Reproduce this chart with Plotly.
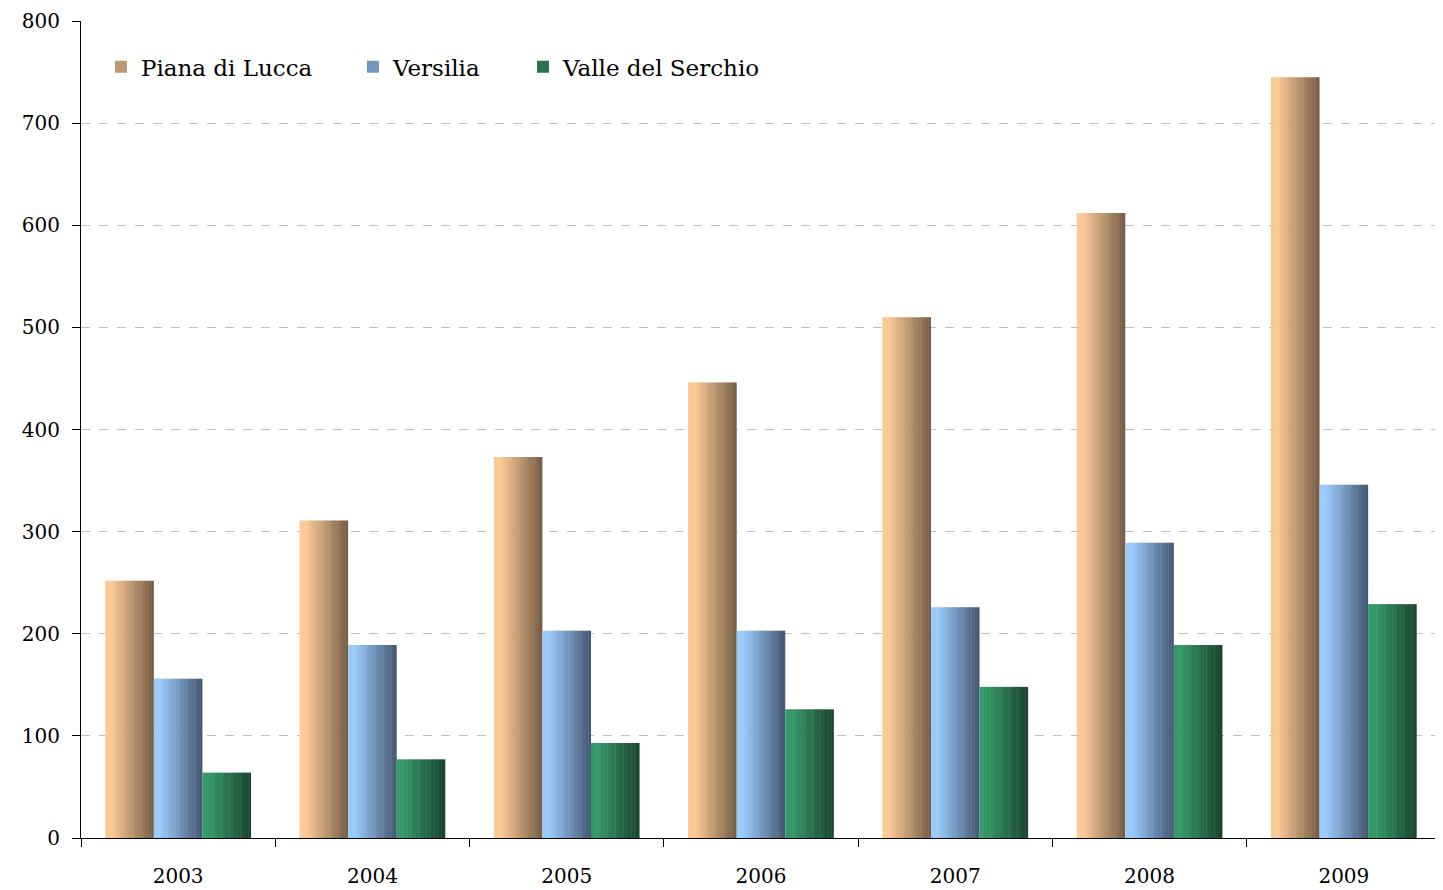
import plotly.graph_objects as go

# Dati
anni = ["2003", "2004", "2005", "2006", "2007", "2008", "2009"]
piana_di_lucca = [252, 311, 373, 446, 510, 612, 745]
versilia = [156, 189, 203, 203, 226, 289, 346]
valle_del_serchio = [64, 77, 93, 126, 148, 189, 229]

serie = [
    ("Piana di Lucca", piana_di_lucca, (250, 201, 150), (120, 95, 71)),
    ("Versilia", versilia, (153, 202, 250), (70, 90, 117)),
    ("Valle del Serchio", valle_del_serchio, (52, 152, 104), (26, 70, 47)),
]

n_strisce = 18        # strisce per simulare il gradiente orizzontale
larghezza_barra = 0.25
inizio_gruppo = -0.375

# una legenda per voce, così si può posizionare come nell'originale
legende = ["legend", "legend2", "legend3"]
pos_legenda = [0.0147, 0.200, 0.325]


def colore(c1, c2, t):
    # resta chiaro per un tratto, poi scurisce
    t = max(0.0, (t - 0.12) / 0.88)
    r, g, b = (round(a + (b_ - a) * t) for a, b_ in zip(c1, c2))
    return f"rgb({r},{g},{b})"


fig = go.Figure()

for i, (nome, valori, chiaro, scuro) in enumerate(serie):
    w = larghezza_barra / n_strisce
    for j in range(n_strisce):
        fig.add_trace(go.Bar(
            x=anni,
            y=valori,
            name=nome,
            legendgroup=nome,
            legend=legende[i],
            showlegend=(j == n_strisce // 2),
            width=w * 1.15 if j < n_strisce - 1 else w,
            offset=inizio_gruppo + i * larghezza_barra + j * w,
            marker=dict(color=colore(chiaro, scuro, j / (n_strisce - 1)), line=dict(width=0)),
            hoverinfo="skip" if j != n_strisce // 2 else None,
        ))

stile_legenda = dict(
    orientation="h",
    y=0.944,
    xanchor="left", yanchor="middle",
    font=dict(size=23),
    bgcolor="rgba(0,0,0,0)",
    itemwidth=30,
)

# la pagina ha 8px di margine, quindi la figura è un po' più piccola
fig.update_layout(
    width=1435,
    height=882,
    barmode="overlay",
    plot_bgcolor="white",
    paper_bgcolor="white",
    margin=dict(l=73, r=2, t=13, b=52),
    font=dict(family="DejaVu Serif", size=20, color="black"),
    legend=dict(stile_legenda, x=pos_legenda[0]),
    legend2=dict(stile_legenda, x=pos_legenda[1]),
    legend3=dict(stile_legenda, x=pos_legenda[2]),
    xaxis=dict(
        type="category",
        tickson="boundaries",
        ticks="outside",
        ticklen=8,
        tickcolor="black",
        showline=True,
        linecolor="black",
        linewidth=1,
        showgrid=False,
        ticklabelstandoff=20,
        automargin=False,
    ),
    yaxis=dict(
        range=[0, 800],
        dtick=100,
        ticks="outside",
        ticklen=8,
        tickcolor="black",
        showline=True,
        linecolor="black",
        linewidth=1,
        showgrid=True,
        gridcolor="#BFBFBF",
        griddash="dash",
        gridwidth=1,
        zeroline=False,
        ticklabelstandoff=8,
        automargin=False,
    ),
)

fig.write_html("out.html")
